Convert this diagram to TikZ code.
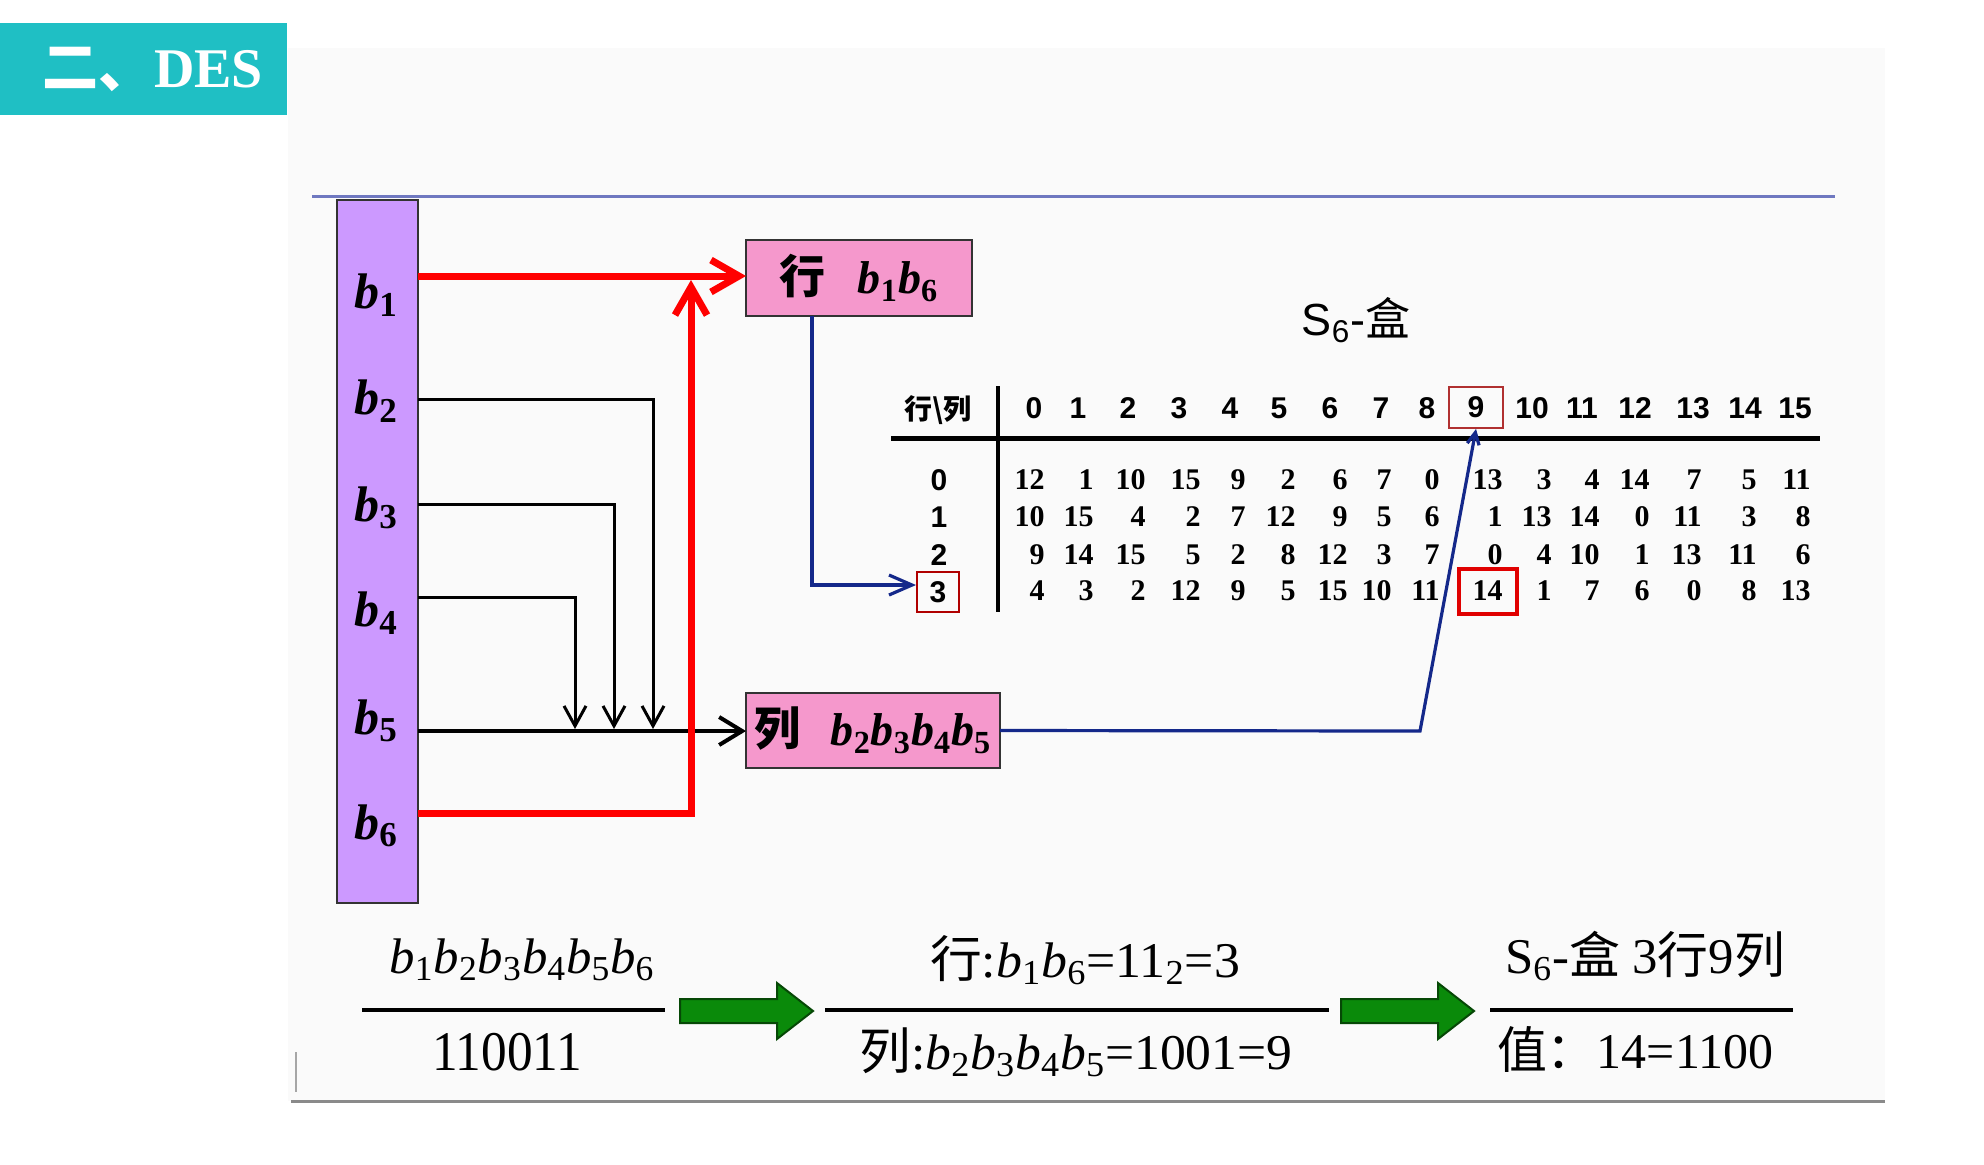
\documentclass[tikz,border=0pt]{standalone}
\usepackage{fontspec}
\usepackage{graphicx}
\setmainfont{Liberation Serif}
\newfontfamily\sansf{Liberation Sans}
\newfontfamily\cjk{Noto Sans CJK SC}
\usetikzlibrary{arrows.meta}
\definecolor{teal1}{HTML}{1FBFC4}
\definecolor{barpurple}{HTML}{CC99FF}
\definecolor{boxpink}{HTML}{F598CC}
\definecolor{navy1}{HTML}{14288A}
\definecolor{green1}{HTML}{0A8A0A}
\definecolor{green2}{HTML}{064806}
\definecolor{topline}{HTML}{6F78C0}
\definecolor{botline}{HTML}{8A8A8A}
\definecolor{darkred1}{HTML}{B00000}
\definecolor{box9red}{HTML}{B03030}
\definecolor{red14}{HTML}{E00000}
\newcommand{\bib}[1]{\textit{b}\textsubscript{#1}}
\newcommand{\fitw}[2]{\resizebox{#1}{\height}{#2}}
\begin{document}
\begin{tikzpicture}[x=0.5pt,y=-0.5pt,
  titlebox/.style={fill=teal1,text=white,minimum width=143.5pt,minimum height=46pt,inner sep=0pt,outer sep=0pt,font=\fontsize{28}{30}\selectfont},
  barbox/.style={fill=barpurple,draw=black!80,line width=1pt,inner sep=0pt,outer sep=0pt},
  pinkbox/.style={fill=boxpink,draw=black!80,line width=1pt,inner sep=0pt,outer sep=0pt,font=\fontsize{23}{26}\selectfont\bfseries},
  blab/.style={inner sep=0pt,font=\fontsize{25}{30}\selectfont\bfseries},
  hdr/.style={inner sep=0pt,font=\fontsize{15}{18}\selectfont\sansf\bfseries},
  dat/.style={inner sep=0pt,font=\fontsize{15}{18}\selectfont\bfseries},
  redln/.style={draw=red,line width=3.5pt},
  blkln/.style={draw=black,line width=1.5pt},
  blueln/.style={draw=navy1,line width=1.6pt},
  rule/.style={draw=black,line width=2.5pt},
  fracln/.style={draw=black,line width=2.25pt},
  frm/.style={inner sep=0pt,anchor=base,font=\fontsize{25}{30}\selectfont},
  garrow/.style={fill=green1,draw=green2,line width=1pt,line join=miter}
]
\useasboundingbox (0,0) rectangle (1984,1164);
\fill[black!2] (288,48) rectangle (1885,1101);
% title
\node[titlebox] (title) at (143.5,69) {\hspace{9pt}{\cjk\bfseries 二、}{\bfseries DES}};
% frame lines
\draw[topline,line width=1.5pt] (312,196) -- (1835,196);
\draw[botline,line width=1.5pt] (291,1101) -- (1885,1101);
\draw[black!35,line width=0.75pt] (296,1052) -- (296,1092);
% bar
\node[barbox,minimum width=40.5pt,minimum height=351.5pt] (bar) at (377.5,551.5) {};
\node[blab] (lb1) at (376,295) {\bib{1}};
\node[blab] (lb2) at (376,401) {\bib{2}};
\node[blab] (lb3) at (376,508) {\bib{3}};
\node[blab] (lb4) at (376,613) {\bib{4}};
\node[blab] (lb5) at (376,721) {\bib{5}};
\node[blab] (lb6) at (376,826) {\bib{6}};
% boxes
\node[pinkbox,minimum width=113pt,minimum height=38pt] (rowbox) at (859,278) {{\cjk 行}\hspace{16pt}\bib{1}\bib{6}};
\node[pinkbox,minimum width=127pt,minimum height=37.5pt] (colbox) at (873,730.5) {{\cjk 列}\hspace{15pt}\bib{2}\bib{3}\bib{4}\bib{5}};
% helper coordinates
\coordinate (y1) at (0,276);
\coordinate (y2) at (0,399);
\coordinate (y3) at (0,504);
\coordinate (y4) at (0,597);
\coordinate (y5) at (0,731);
\coordinate (y6) at (0,813);
\coordinate (j2) at (653,729);
\coordinate (j3) at (614,729);
\coordinate (j4) at (575,729);
\coordinate (redjoin) at (691,280);
\coordinate (yb) at (0,585);
\coordinate (bend) at (1420,731);
% black connectors
\draw[blkln,-{Straight Barb[length=10pt,width=11pt]}] (bar.east |- y2) -| (j2);
\draw[blkln,-{Straight Barb[length=10pt,width=11pt]}] (bar.east |- y3) -| (j3);
\draw[blkln,-{Straight Barb[length=10pt,width=11pt]}] (bar.east |- y4) -| (j4);
\draw[blkln,line width=2pt,-{Straight Barb[length=11.5pt,width=14pt]}] (bar.east |- y5) -- (colbox.west |- y5);
% red connectors
\draw[redln,-{Straight Barb[length=14pt,width=16pt]}] (bar.east |- y6) -| (redjoin);
\draw[redln,-{Straight Barb[length=14pt,width=16pt]}] (bar.east |- y1) -- (rowbox.west |- y1);
% S-box title
\node[inner sep=0pt,font=\fontsize{22.5}{26}\selectfont\sansf] (stitle) at (1356,320) {S\textsubscript{6}-{\cjk 盒}};
% table
\node[hdr,font=\fontsize{14}{18}\selectfont\cjk\bfseries] (corner) at (938,410) {行\textbackslash 列};
\foreach \v/\xx [count=\c from 0] in {0/1034,1/1078,2/1128,3/1179,4/1230,5/1279,6/1330,7/1381,8/1427,10/1532,11/1582,12/1635,13/1693,14/1745,15/1795}{
  \node[hdr] (h\v) at (\xx,408) {\v};
}
\node[hdr,draw=box9red,line width=0.9pt,minimum width=27pt,minimum height=20.5pt] (h9) at (1476,407.5) {9};
\draw[rule] (891,438) -- (1820,438);
\draw[rule,line width=2pt] (998,386) -- (998,612);
\node[hdr] (rl0) at (939,480) {0};
\node[hdr] (rl1) at (939,517) {1};
\node[hdr] (rl2) at (939,555) {2};
\node[hdr,draw=darkred1,line width=1pt,minimum width=21pt,minimum height=20pt] (rl3) at (938,592) {3};
\def\colx{{1045,1094,1146,1201,1246,1296,1348,1392,1440,1503,1552,1600,1650,1702,1757,1811}}
\foreach \r/\yy/\vals in {0/480/{12,1,10,15,9,2,6,7,0,13,3,4,14,7,5,11},1/517/{10,15,4,2,7,12,9,5,6,1,13,14,0,11,3,8},2/555/{9,14,15,5,2,8,12,3,7,0,4,10,1,13,11,6},3/591/{4,3,2,12,9,5,15,10,11,14,1,7,6,0,8,13}}{
  \foreach \v [count=\c from 0] in \vals {
    \pgfmathsetmacro\xx{\colx[\c]}
    \node[dat,anchor=east] (d\r-\c) at (\xx,\yy) {\v};
  }
}
\node[draw=red14,line width=2pt,minimum width=29pt,minimum height=22.5pt,inner sep=0pt] (box14) at (1488,591.5) {};
% blue connectors
\draw[blueln,-{Straight Barb[length=11.5pt,width=10pt]}] (rowbox.south -| 812,0) |- (rl3.west |- yb);
\draw[blueln,-{Straight Barb[length=6pt,width=6pt]}] (colbox.east) -- (bend) -- (h9.south);
% bottom formulas
\node[frm] (t1) at (522,973) {\fitw{132.5pt}{\bib{1}\bib{2}\bib{3}\bib{4}\bib{5}\bib{6}}};
\node[frm,font=\fontsize{28}{30}\selectfont] (t2) at (507,1070) {\fitw{75pt}{110011}};
\node[frm] (t3) at (1085,977) {\fitw{155pt}{{\cjk 行}:\bib{1}\bib{6}=11\textsubscript{2}=3}};
\node[frm] (t4) at (1076,1069) {\fitw{216.5pt}{{\cjk 列}:\bib{2}\bib{3}\bib{4}\bib{5}=1001=9}};
\node[frm] (t5) at (1645,973) {\fitw{140pt}{S\textsubscript{6}-{\cjk 盒} 3{\cjk 行}9{\cjk 列}}};
\node[frm] (t6) at (1635,1068) {\fitw{138pt}{{\cjk 值：}14=1100}};
\draw[fracln] (362,1010) -- (665,1010);
\draw[fracln] (825,1010) -- (1329,1010);
\draw[fracln] (1490,1010) -- (1793,1010);
% green block arrows
\draw[garrow] (680,999) -- (777,999) -- (777,983) -- (813,1011) -- (777,1039) -- (777,1023) -- (680,1023) -- cycle;
\draw[garrow] (1341,999) -- (1438,999) -- (1438,983) -- (1474,1011) -- (1438,1039) -- (1438,1023) -- (1341,1023) -- cycle;
\end{tikzpicture}
\end{document}
